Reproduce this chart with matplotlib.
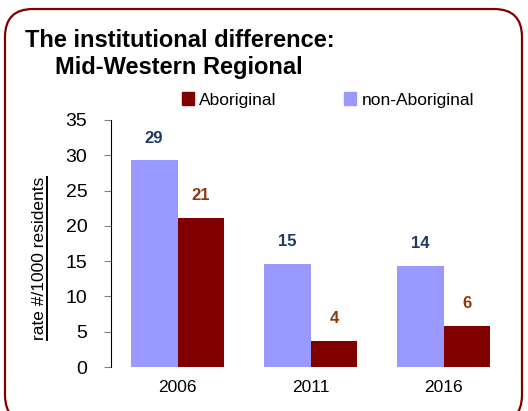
import matplotlib.pyplot as plt
from matplotlib.patches import FancyBboxPatch, Patch
from matplotlib.lines import Line2D

plt.rcParams['font.family'] = ['Liberation Sans', 'DejaVu Sans']

# data
years = ['2006', '2011', '2016']
non_aboriginal = [29.3, 14.6, 14.3]
aboriginal = [21.1, 3.7, 5.85]
non_ab_labels = ['29', '15', '14']
ab_labels = ['21', '4', '6']

lavender = '#9999FF'
darkred = '#800000'
navy = '#1F3864'
brown = '#8B3A10'

fig = plt.figure(figsize=(5.28, 4.11), dpi=100)

# rounded frame round the whole chart (pixel units via inches)
frame = FancyBboxPatch((0.05, -0.12), 5.17, 4.14,
                       boxstyle='round,pad=0,rounding_size=0.28',
                       transform=fig.dpi_scale_trans, facecolor='none',
                       edgecolor=darkred, linewidth=1.6)
fig.patches.append(frame)

ax = fig.add_axes([111 / 528, 44 / 411, 399 / 528, 247 / 411])

w = 0.353
x = list(range(len(years)))
b1 = ax.bar([i - w / 2 for i in x], non_aboriginal, width=w, color=lavender, label='non-Aboriginal')
b2 = ax.bar([i + w / 2 for i in x], aboriginal, width=w, color=darkred, label='Aboriginal')

for bar, txt in zip(b1, non_ab_labels):
    ax.annotate(txt, (bar.get_x() + bar.get_width() / 2, bar.get_height()),
                xytext=(0, 16), textcoords='offset points', ha='center', va='center',
                fontsize=12, fontweight='bold', color=navy)
for bar, txt in zip(b2, ab_labels):
    ax.annotate(txt, (bar.get_x() + bar.get_width() / 2, bar.get_height()),
                xytext=(0, 16), textcoords='offset points', ha='center', va='center',
                fontsize=12, fontweight='bold', color=brown)

ax.set_xlim(-0.5, 2.5)
ax.set_ylim(0, 35)
ax.set_yticks(range(0, 36, 5))
ax.set_xticks(x)
ax.set_xticklabels(years, fontsize=12.5)
ax.tick_params(axis='x', length=0, pad=9)
ax.tick_params(axis='y', direction='out', length=5, color='#808080', pad=12, labelsize=14)
for s in ['top', 'right', 'bottom']:
    ax.spines[s].set_visible(False)
ax.spines['left'].set_color('black')

ax.set_ylabel('rate #/1000 residents', fontsize=12.5)
ax.yaxis.set_label_coords(-0.16, 0.44)
# underline of the axis title
fig.add_artist(Line2D([47 / 528, 47 / 528], [1 - 340 / 411, 1 - 177 / 411],
                      transform=fig.transFigure, color='black', linewidth=1.4))

fig.text(25 / 528, 1 - 47 / 411, 'The institutional difference:', fontsize=17,
         fontweight='bold', va='baseline', ha='left')
fig.text(55 / 528, 1 - 74 / 411, 'Mid-Western Regional', fontsize=17,
         fontweight='bold', va='baseline', ha='left')

handles = [Patch(color=darkred), Patch(color=lavender)]
fig.legend(handles, ['Aboriginal', 'non-Aboriginal'], ncol=2, frameon=False,
           loc='center left', bbox_to_anchor=(166 / 528, 1 - 100 / 411),
           handlelength=0.7, handleheight=0.7, handletextpad=0.3,
           columnspacing=3.9, fontsize=12.5)

fig.savefig('out.png', dpi=100)
